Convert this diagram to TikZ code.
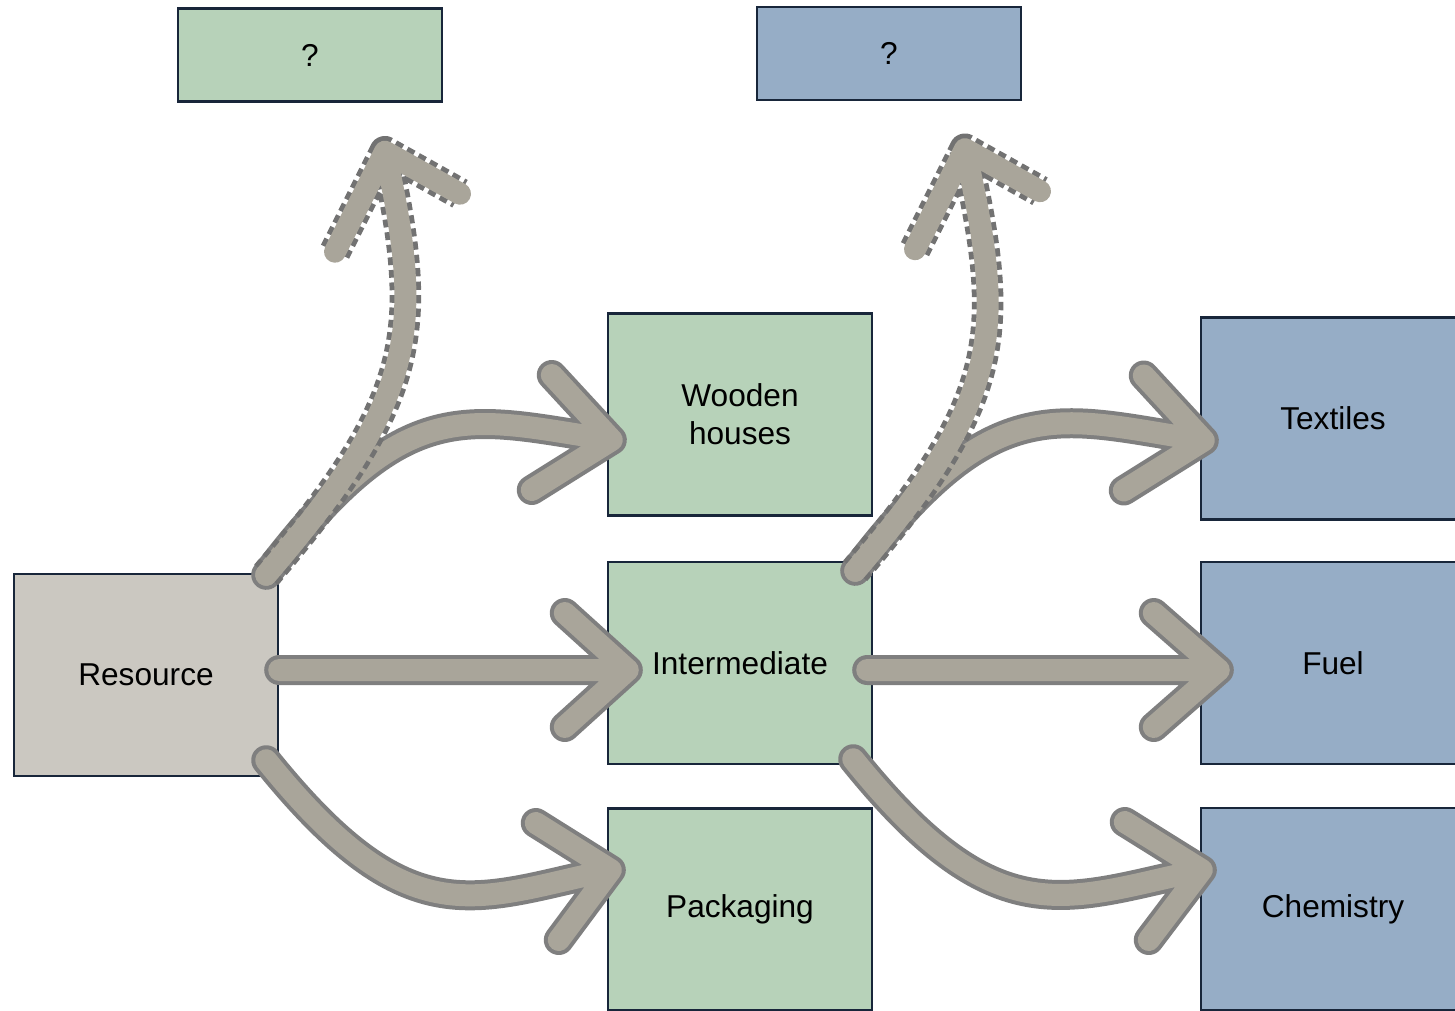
\documentclass[tikz,border=0pt]{standalone}
\usepackage{fontspec}
\setmainfont{Liberation Sans}
\usepackage{xcolor}
\usetikzlibrary{calc}
\definecolor{resgray}{HTML}{CBC8C1}
\definecolor{midgreen}{HTML}{B7D2B9}
\definecolor{endblue}{HTML}{96ADC6}
\definecolor{boxline}{HTML}{18263A}
\definecolor{arrowfill}{HTML}{A9A59A}
\definecolor{arrowedge}{HTML}{7F7F7F}
\tikzset{
  box/.style      = {draw=boxline, line width=1.4pt, rectangle, align=center,
                     font=\fontsize{18}{21.5}\selectfont, inner sep=2pt,
                     minimum width=5.28cm, minimum height=4.04cm},
  resbox/.style   = {box, fill=resgray},
  midbox/.style   = {box, fill=midgreen},
  endbox/.style   = {box, fill=endblue},
  askbox/.style   = {box, minimum height=1.86cm},
  flowedge/.style = {draw=arrowedge, line width=0.6cm, line cap=round, line join=round},
  flowdash/.style = {draw=arrowedge!90!black, line width=0.63cm, line join=round,
                     dash pattern=on 0.16cm off 0.1cm},
  flowbody/.style = {draw=arrowfill, line width=0.44cm, line cap=round, line join=round}
}

\begin{document}
\begin{tikzpicture}[x=0.02cm, y=-0.02cm]
\useasboundingbox (0,0) rectangle (1455,1011);

% --- boxes ---
\node[resbox] (res)   at (146,675)   {Resource};
\node[midbox] (wood)  at (740,414.5) {Wooden\\houses};
\node[midbox] (inter) at (740,663)   {Intermediate};
\node[midbox] (pack)  at (740,909.5) {Packaging};
\node[endbox] (tex)   at (1333,418.5) {Textiles};
\node[endbox] (fuel)  at (1333,663)  {Fuel};
\node[endbox] (chem)  at (1333,909)  {Chemistry};
\node[askbox, fill=midgreen] (askA) at (310,55) {?};
\node[askbox, fill=endblue]  (askB) at (889,53.5) {?};

% --- arrow ends ---
\coordinate (rs1) at ($(res.north east)+(-13,2)$);
\coordinate (rs2) at ($(res.east)+(0,-5)$);
\coordinate (rs3) at ($(res.south east)+(-13,-17)$);
\coordinate (is1) at ($(inter.north east)+(-18,10)$);
\coordinate (is2) at ($(inter.east)+(-6,7)$);
\coordinate (is3) at ($(inter.south east)+(-20,-6)$);

\coordinate (woodtip)  at ($(wood.west)+(5,25.5)$);
\coordinate (intertip) at ($(inter.west)+(21,7)$);
\coordinate (packtip)  at ($(pack.west)+(4,-39.5)$);
\coordinate (textip)   at ($(tex.west)+(4,22)$);
\coordinate (fueltip)  at ($(fuel.west)+(19,7)$);
\coordinate (chemtip)  at ($(chem.west)+(2,-39)$);
\coordinate (askAtip)  at ($(askA.south)+(75,49)$);
\coordinate (askBtip)  at ($(askB.south)+(76,48)$);

% --- solid arrows ---
\foreach \s in {flowedge,flowbody} {
  \draw[\s] (rs1) .. controls +(140,-185) and +(-145,-22) .. (woodtip)
            ($(woodtip)+(-60,-65)$) -- (woodtip) -- ($(woodtip)+(-80,50)$);
  \draw[\s] (rs2) -- (intertip)
            ($(intertip)+(-63,-57)$) -- (intertip) -- ($(intertip)+(-63,57)$);
  \draw[\s] (rs3) .. controls +(145,180) and +(-135,28) .. (packtip)
            ($(packtip)+(-75,-47)$) -- (packtip) -- ($(packtip)+(-52,70)$);
  \draw[\s] (is1) .. controls +(140,-185) and +(-145,-22) .. (textip)
            ($(textip)+(-60,-65)$) -- (textip) -- ($(textip)+(-80,50)$);
  \draw[\s] (is2) -- (fueltip)
            ($(fueltip)+(-65,-57)$) -- (fueltip) -- ($(fueltip)+(-65,57)$);
  \draw[\s] (is3) .. controls +(145,180) and +(-135,28) .. (chemtip)
            ($(chemtip)+(-77,-48)$) -- (chemtip) -- ($(chemtip)+(-53,70)$);
}

% --- dashed arrows to the open boxes ---
\foreach \s in {flowdash,flowbody} {
  \draw[\s] (rs1) .. controls +(150,-175) and +(40,180) .. (askAtip)
            ($(askAtip)+(-50,100)$) -- (askAtip) -- ($(askAtip)+(75,42)$);
  \draw[\s] (is1) .. controls +(150,-175) and +(40,180) .. (askBtip)
            ($(askBtip)+(-50,100)$) -- (askBtip) -- ($(askBtip)+(75,42)$);
}

\end{tikzpicture}
\end{document}
